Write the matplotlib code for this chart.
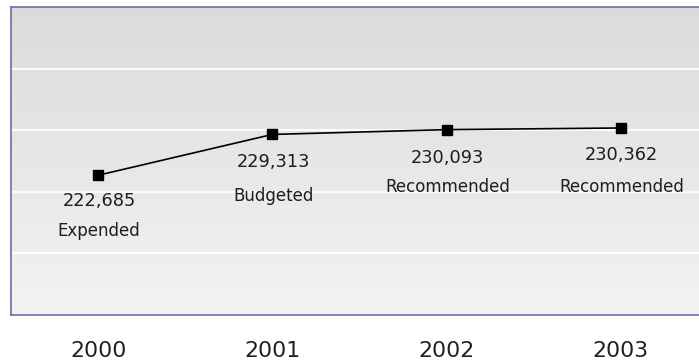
import matplotlib
matplotlib.use("Agg")
import matplotlib.pyplot as plt
import numpy as np
from matplotlib.colors import LinearSegmentedColormap

years = ["2000", "2001", "2002", "2003"]
values = [222685, 229313, 230093, 230362]
status = ["Expended", "Budgeted", "Recommended", "Recommended"]
y_ticks = [200000, 210000, 220000, 230000, 240000, 250000]

W, H = 699, 362
fig = plt.figure(figsize=(W / 100, H / 100), dpi=100)
fig.patch.set_facecolor("white")
left_px, top_px, bottom_px, right_px = 11, 7, 315, 708
ax = fig.add_axes([left_px / W, (H - bottom_px) / H,
                   (right_px - left_px) / W, (bottom_px - top_px) / H])

x = np.arange(len(years))

# gradient background: darker at top, lighter at bottom
grad = np.linspace(0, 1, 256).reshape(-1, 1)
cmap = LinearSegmentedColormap.from_list("bg", ["#dbdbdb", "#f3f3f3"])
ax.imshow(grad[::-1], aspect="auto", cmap=cmap,
          extent=(-0.5, 3.5, y_ticks[0], y_ticks[-1]),
          origin="lower", zorder=0)
ax.set_xlim(-0.5, 3.5)
ax.set_ylim(y_ticks[0], y_ticks[-1])

for yt in y_ticks[1:-1]:
    ax.axhline(yt, color="white", lw=1.3, zorder=1)

ax.plot(x, values, color="black", lw=1.2, marker="s", markersize=7.5,
        markerfacecolor="black", markeredgecolor="black", zorder=3)

val_off = [-26, -28, -28, -27]
lab_off = [-56, -62, -57, -59]
for i in range(len(years)):
    ax.annotate(f"{values[i]:,}", (x[i], values[i]), xytext=(1, val_off[i]),
                textcoords="offset pixels", ha="center", va="center",
                fontsize=12.8, color="#1e1e1e", zorder=4)
    ax.annotate(status[i], (x[i], values[i]), xytext=(1, lab_off[i]),
                textcoords="offset pixels", ha="center", va="center",
                fontsize=12, color="#1e1e1e", zorder=4)

ax.set_xticks(x)
ax.set_xticklabels(years, fontsize=15.8, color="#1e1e1e")
ax.tick_params(axis="x", length=0, pad=18.5)
ax.set_yticks([])

border = "#6b6bb0"
for s in ["left", "top", "bottom"]:
    ax.spines[s].set_color(border)
    ax.spines[s].set_linewidth(1.2)
ax.spines["right"].set_visible(False)

fig.savefig("out.png", dpi=100, facecolor="white")
